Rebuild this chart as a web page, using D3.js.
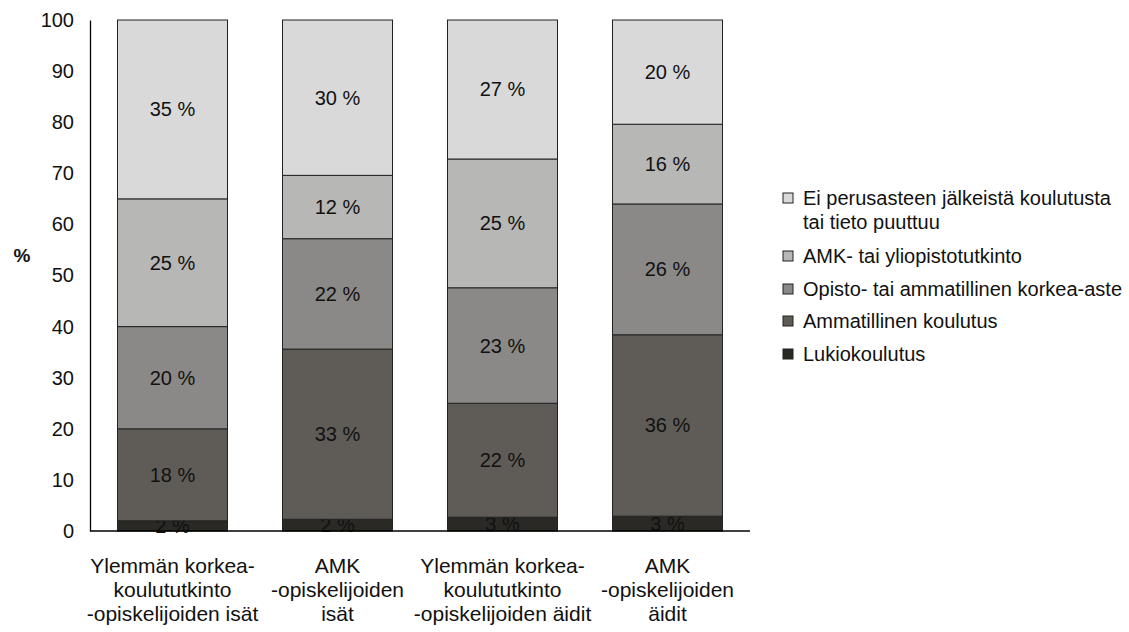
<!DOCTYPE html>
<html>

<head>
  <meta charset="utf-8">
  <style>
    body { margin: 0; background: #fff; }
    text { font-family: "Liberation Sans", Arial, sans-serif; fill: #111; }
  </style>
</head>

<body>
  <script src="https://d3js.org/d3.v7.min.js"></script>
  <script>
    // groups along the x axis, each label split in lines
    var groups = [
      ["Ylemmän korkea-", "koulututkinto", "-opiskelijoiden isät"],
      ["AMK", "-opiskelijoiden", "isät"],
      ["Ylemmän korkea-", "koulututkinto", "-opiskelijoiden äidit"],
      ["AMK", "-opiskelijoiden", "äidit"]
    ];

    // series, bottom to top
    var seriesNames = [
      "Lukiokoulutus",
      "Ammatillinen koulutus",
      "Opisto- tai ammatillinen korkea-aste",
      "AMK- tai yliopistotutkinto",
      "Ei perusasteen jälkeistä koulutusta tai tieto puuttuu"
    ];
    var lukio = [2, 2.3, 2.7, 2.9];
    var ammatillinen = [18, 33.3, 22.3, 35.5];
    var opisto = [20, 21.6, 22.6, 25.6];
    var amk = [25, 12.4, 25.2, 15.6];
    var eiTietoa = [35, 30.4, 27.2, 20.4];

    var yTicks = [0, 10, 20, 30, 40, 50, 60, 70, 80, 90, 100];

    var colors = ["#2a2925", "#5f5c57", "#8a8987", "#b7b7b5", "#d9d9d9"];

    var width = 1129,
      height = 632,
      margin = { top: 20, left: 90, right: 379, bottom: 101 };

    var svg = d3.select("body").append("svg")
      .attr("width", width)
      .attr("height", height);

    var rows = groups.map(function(g, i) {
      return {
        key: i,
        s0: lukio[i],
        s1: ammatillinen[i],
        s2: opisto[i],
        s3: amk[i],
        s4: eiTietoa[i]
      };
    });

    var stack = d3.stack().keys(["s0", "s1", "s2", "s3", "s4"]);
    var layers = stack(rows);

    var x = d3.scaleBand()
      .domain(d3.range(groups.length))
      .range([margin.left, width - margin.right])
      .paddingInner(1 / 3)
      .paddingOuter(1 / 6);

    var y = d3.scaleLinear()
      .domain([0, 100])
      .range([height - margin.bottom, margin.top]);

    // bars
    var layer = svg.selectAll(".layer")
      .data(layers)
      .enter().append("g")
      .attr("class", "layer")
      .attr("fill", function(d, i) { return colors[i]; });

    layer.selectAll("rect")
      .data(function(d) { return d; })
      .enter().append("rect")
      .attr("x", function(d, i) { return x(i); })
      .attr("width", x.bandwidth())
      .attr("y", function(d) { return y(d[1]); })
      .attr("height", function(d) { return y(d[0]) - y(d[1]); })
      .attr("stroke", "#222")
      .attr("stroke-width", 1);

    // value labels
    layer.selectAll("text")
      .data(function(d) { return d; })
      .enter().append("text")
      .attr("x", function(d, i) { return x(i) + x.bandwidth() / 2; })
      .attr("y", function(d) { return y((d[0] + d[1]) / 2); })
      .attr("dy", "0.35em")
      .attr("text-anchor", "middle")
      .attr("font-size", 20)
      .text(function(d) { return Math.round(d[1] - d[0]) + " %"; });

    // y axis
    var yAxis = svg.append("g")
      .attr("transform", "translate(" + margin.left + ",0)")
      .call(d3.axisLeft(y).tickValues(yTicks).tickSize(0).tickPadding(16));
    yAxis.select(".domain").attr("stroke", "#000").attr("stroke-width", 1.3);
    yAxis.selectAll("text")
      .attr("font-size", 20)
      .attr("font-family", "Liberation Sans, Arial, sans-serif")
      .attr("fill", "#111");

    svg.append("text")
      .attr("x", 22)
      .attr("y", y(50) - 20)
      .attr("dy", "0.35em")
      .attr("text-anchor", "middle")
      .attr("font-size", 19)
      .attr("font-weight", "bold")
      .text("%");

    // x baseline
    svg.append("line")
      .attr("x1", margin.left)
      .attr("x2", width - margin.right)
      .attr("y1", y(0))
      .attr("y2", y(0))
      .attr("stroke", "#000")
      .attr("stroke-width", 1.3);

    // x labels
    var xl = svg.selectAll(".xlabel")
      .data(groups)
      .enter().append("text")
      .attr("class", "xlabel")
      .attr("text-anchor", "middle")
      .attr("font-size", 21)
      .attr("transform", function(d, i) {
        return "translate(" + (x(i) + x.bandwidth() / 2) + "," + (y(0) + 42) + ")";
      });
    xl.selectAll("tspan")
      .data(function(d) { return d; })
      .enter().append("tspan")
      .attr("x", 0)
      .attr("y", function(d, i) { return i * 24; })
      .text(function(d) { return d; });

    // legend, top item first
    var legendRows = [
      { i: 4, lines: ["Ei perusasteen jälkeistä koulutusta", "tai tieto puuttuu"], y: 198 },
      { i: 3, lines: [seriesNames[3]], y: 256 },
      { i: 2, lines: [seriesNames[2]], y: 289 },
      { i: 1, lines: [seriesNames[1]], y: 321 },
      { i: 0, lines: [seriesNames[0]], y: 354 }
    ];

    var leg = svg.selectAll(".legend")
      .data(legendRows)
      .enter().append("g")
      .attr("class", "legend")
      .attr("transform", function(d) { return "translate(783," + d.y + ")"; });

    leg.append("rect")
      .attr("x", 0)
      .attr("y", -5)
      .attr("width", 10)
      .attr("height", 10)
      .attr("fill", function(d) { return colors[d.i]; })
      .attr("stroke", "#222")
      .attr("stroke-width", 1);

    leg.append("text")
      .attr("font-size", 20)
      .selectAll("tspan")
      .data(function(d) { return d.lines; })
      .enter().append("tspan")
      .attr("x", 20)
      .attr("y", function(d, i) { return i * 24; })
      .attr("dy", "0.35em")
      .text(function(d) { return d; });
  </script>
</body>

</html>
